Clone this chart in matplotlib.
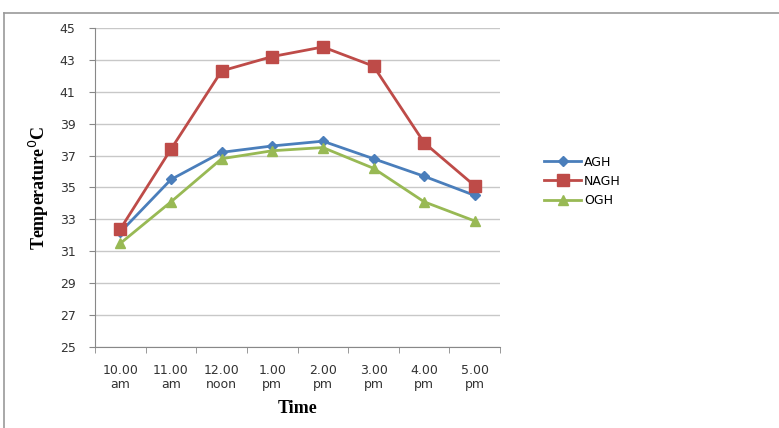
import matplotlib
matplotlib.use("Agg")
import matplotlib.pyplot as plt
from matplotlib.lines import Line2D

times = ["10.00\nam", "11.00\nam", "12.00\nnoon", "1.00\npm", "2.00\npm",
         "3.00\npm", "4.00\npm", "5.00\npm"]
agh = [32.2, 35.5, 37.2, 37.6, 37.9, 36.8, 35.7, 34.5]
nagh = [32.4, 37.4, 42.3, 43.2, 43.8, 42.6, 37.8, 35.1]
ogh = [31.5, 34.1, 36.8, 37.3, 37.5, 36.2, 34.1, 32.9]

fig = plt.figure(figsize=(7.79, 4.28), dpi=100)
ax = fig.add_axes([0.122, 0.189, 0.52, 0.746])

x = list(range(len(times)))
ax.plot(x, agh, color="#4a7ebb", lw=2, marker="D", ms=5, label="AGH")
ax.plot(x, nagh, color="#be4b48", lw=2, marker="s", ms=8, label="NAGH")
ax.plot(x, ogh, color="#98b954", lw=2, marker="^", ms=7, label="OGH")

ax.set_xlim(-0.5, 7.5)
ax.set_ylim(25, 45)
ax.set_yticks(range(25, 46, 2))
ax.yaxis.grid(True, color="#c8c8c8", lw=1)
ax.set_axisbelow(True)

ax.set_xticks(x)
ax.set_xticklabels(times, fontsize=9, color="#333333", linespacing=1.1)
ax.set_xticks([i - 0.5 for i in range(len(times) + 1)], minor=True)
ax.tick_params(axis="x", which="major", length=0, pad=12)
ax.tick_params(axis="x", which="minor", length=4, color="#888888")
ax.tick_params(axis="y", length=4, color="#888888", labelsize=9, labelcolor="#333333", pad=10)

for s in ["top", "right"]:
    ax.spines[s].set_visible(False)
for s in ["left", "bottom"]:
    ax.spines[s].set_color("#888888")

ax.set_xlabel("Time", family="Liberation Serif", fontweight="bold", fontsize=13, labelpad=7)
ax.set_ylabel("Temperature$^{0}$C", family="Liberation Serif", fontweight="bold", fontsize=13,
              labelpad=6)

ax.legend(loc="upper left", bbox_to_anchor=(1.08, 0.635), frameon=False, fontsize=9,
          handlelength=3, labelspacing=0.5, handletextpad=0.2)

# outer frame like the source image
fig.add_artist(Line2D([0.005, 1.0], [0.97, 0.97], transform=fig.transFigure, color="#999999", lw=1.2))
fig.add_artist(Line2D([0.005, 0.005], [0.0, 0.97], transform=fig.transFigure, color="#999999", lw=1.2))

fig.savefig("out.png", dpi=100)
